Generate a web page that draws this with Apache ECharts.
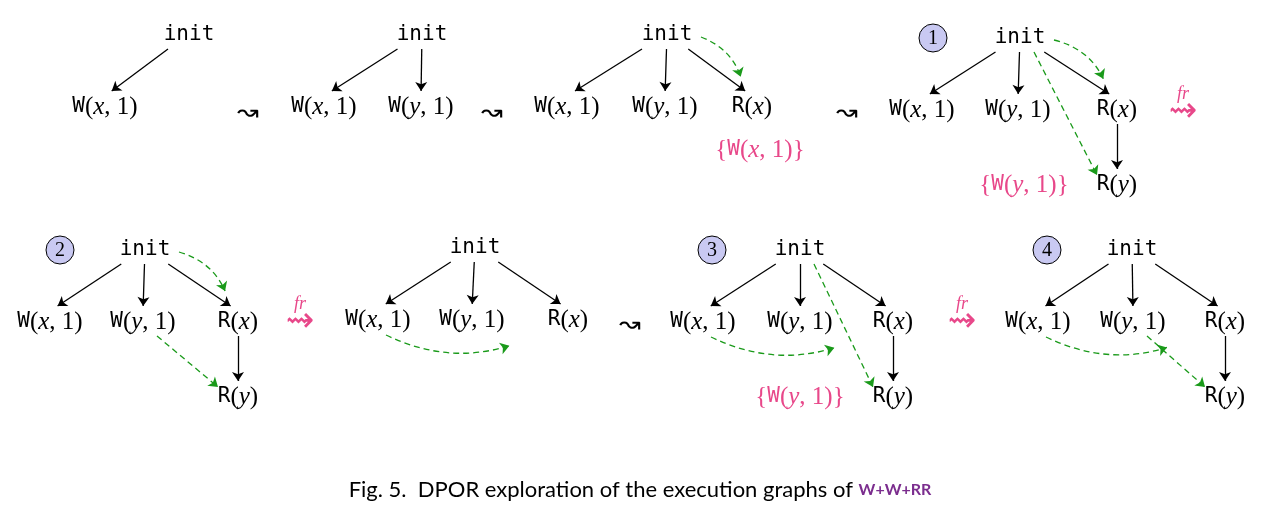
<!DOCTYPE html>
<html>
<head>
<meta charset="utf-8">
<script src="https://cdn.jsdelivr.net/npm/echarts@6/dist/echarts.min.js"></script>
<style>html,body{margin:0;background:#fff}#c{width:1274px;height:523px}</style>
</head>
<body>
<div id="c"></div>
<script>
// node labels
var labelText = {
  init: '{m|init}',
  Wx: '{m|W}{n|(}{i|x}{n|, 1)}',
  Wy: '{m|W}{n|(}{i|y}{n|, 1)}',
  Rx: '{m|R}{n|(}{i|x}{n|)}',
  Ry: '{m|R}{n|(}{i|y}{n|)}'
};

// nodes: id, kind, x, y
var nodeList = [
  ['a0','init',189,35],['a1','Wx',105,107],
  ['b0','init',422,35],['b1','Wx',324,107],['b2','Wy',421,107],
  ['c0','init',667,35],['c1','Wx',567,107],['c2','Wy',665,107],['c3','Rx',752,107],
  ['d0','init',1020,38],['d1','Wx',922,110],['d2','Wy',1018,110],['d3','Rx',1117,110],['d4','Ry',1117,185],
  ['e0','init',145,250],['e1','Wx',50,322],['e2','Wy',143,322],['e3','Rx',238,322],['e4','Ry',238,397],
  ['f0','init',475,248],['f1','Wx',378,320],['f2','Wy',472,320],['f3','Rx',568,320],
  ['g0','init',800,250],['g1','Wx',703,322],['g2','Wy',800,322],['g3','Rx',893,322],['g4','Ry',893,397],
  ['h0','init',1132,250],['h1','Wx',1038,322],['h2','Wy',1133,322],['h3','Rx',1225,322],['h4','Ry',1225,397]
];

// program-order edges
var poEdges = [
  ['a0','a1'],
  ['b0','b1'],['b0','b2'],
  ['c0','c1'],['c0','c2'],['c0','c3'],
  ['d0','d1'],['d0','d2'],['d0','d3'],['d3','d4'],
  ['e0','e1'],['e0','e2'],['e0','e3'],['e3','e4'],
  ['f0','f1'],['f0','f2'],['f0','f3'],
  ['g0','g1'],['g0','g2'],['g0','g3'],['g3','g4'],
  ['h0','h1'],['h0','h2'],['h0','h3'],['h3','h4']
];

// reads-from edges: from, to, curveness, kind ('top' = init to R(x), 'low' = under the row, 'diag')
var rfEdges = [
  ['c0','c3',0.3,'top'],
  ['d0','d3',0.3,'top'],['d0','d4',0,'diag'],
  ['e0','e3',0.3,'top'],['e2','e4',0,'diag'],
  ['f1','f3',-0.25,'low'],
  ['g1','g3',-0.25,'low'],['g0','g4',0,'diag'],
  ['h1','h3',-0.25,'low'],['h2','h4',0,'diag']
];

// pink sets: variable, x, y
var setLabels = [['x',760,150],['y',1024,185],['y',800,397]];
// circled step numbers: n, x, y
var stepMarks = [['1',933,38],['2',60,250],['3',712,250],['4',1047,250]];
// squiggle arrows: x, y, fr?
var squiggles = [[248,113,false],[492,113,false],[847,113,false],[1183,112,true],
  [300,322,true],[630,325,false],[962,322,true]];

var rich = {
  m: {fontFamily: 'DejaVu Sans Mono', fontSize: 21, color: '#000'},
  n: {fontFamily: 'Liberation Serif', fontSize: 25, color: '#000'},
  i: {fontFamily: 'Liberation Serif', fontSize: 25, fontStyle: 'italic', color: '#000'}
};
var pinkRich = {
  m: {fontFamily: 'DejaVu Sans Mono', fontSize: 21, fill: '#e8488a'},
  n: {fontFamily: 'Liberation Serif', fontSize: 25, fill: '#e8488a'},
  i: {fontFamily: 'Liberation Serif', fontSize: 25, fontStyle: 'italic', fill: '#e8488a'}
};

var pos = {};
nodeList.forEach(function (n) { pos[n[0]] = [n[2], n[3]]; });

var nodes = nodeList.map(function (n) {
  return {name: n[0], x: n[2], y: n[3], symbolSize: 1,
    itemStyle: {color: 'rgba(0,0,0,0)'},
    label: {show: true, position: 'inside', formatter: labelText[n[1]], rich: rich}};
});
// corner anchors so the graph maps 1:1 to pixels
nodes.push({name: 'tl', x: 0, y: 0, symbolSize: 0, label: {show: false}});
nodes.push({name: 'br', x: 1274, y: 523, symbolSize: 0, label: {show: false}});

// hidden endpoint anchors offset from the node centres
var anchorCount = 0;
function anchor(id, dx, dy) {
  var name = 'p' + (anchorCount++);
  nodes.push({name: name, x: pos[id][0] + dx, y: pos[id][1] + dy, symbolSize: 0, label: {show: false}});
  return name;
}

var links = [];
poEdges.forEach(function (e) {
  var s = pos[e[0]], t = pos[e[1]];
  var sdx = Math.max(-28, Math.min(28, (t[0] - s[0]) * 0.25));
  links.push({source: anchor(e[0], sdx, 14), target: anchor(e[1], (s[0] - t[0]) * 0.08, -16),
    lineStyle: {color: '#000', width: 1.3, opacity: 1, curveness: 0}});
});
rfEdges.forEach(function (e) {
  var a, b;
  if (e[3] === 'top') { a = anchor(e[0], 34, 2); b = anchor(e[1], -8, -15); }
  else if (e[3] === 'low') { a = anchor(e[0], 8, 15); b = anchor(e[1], -28, 13); }
  else { a = anchor(e[0], 14, 14); b = anchor(e[1], -20, -10); }
  links.push({source: a, target: b,
    lineStyle: {color: '#1a9a1a', width: 1.3, opacity: 1, type: [6, 4], curveness: e[2]}});
});

var graphics = [];
setLabels.forEach(function (s) {
  graphics.push({type: 'text', x: s[1], y: s[2], style: {
    text: '{{m|W}{n|(}{i|' + s[0] + '}{n|, 1)}}', rich: pinkRich,
    fill: '#e8488a', font: '25px "Liberation Serif"', align: 'center', verticalAlign: 'middle'}});
});
stepMarks.forEach(function (s) {
  graphics.push({type: 'circle', shape: {cx: s[1], cy: s[2], r: 14},
    style: {fill: '#c9c9f2', stroke: '#000', lineWidth: 1}});
  graphics.push({type: 'text', x: s[1], y: s[2] + 1, style: {text: s[0],
    font: '20px "Liberation Serif"', fill: '#000', align: 'center', verticalAlign: 'middle'}});
});
squiggles.forEach(function (s) {
  graphics.push({type: 'text', x: s[0], y: s[1], style: {text: s[2] ? '\u21DD' : '\u219D',
    font: s[2] ? '34px "DejaVu Sans"' : '26px "DejaVu Sans"', fill: s[2] ? '#e8488a' : '#000',
    align: 'center', verticalAlign: 'middle'}});
  if (s[2]) {
    graphics.push({type: 'text', x: s[0], y: s[1] - 18, style: {text: 'fr',
      font: 'italic 18px "Liberation Serif"', fill: '#e8488a', align: 'center', verticalAlign: 'middle'}});
  }
});
graphics.push({type: 'text', x: 640, y: 490, style: {
  text: '{a|Fig. 5.  DPOR exploration of the execution graphs of }{b|W+W+RR}',
  rich: {a: {fontFamily: 'Lato', fontSize: 22, fill: '#000'},
         b: {fontFamily: 'Lato', fontSize: 16, fill: '#7b2d8e', fontWeight: 'bold'}},
  align: 'center', verticalAlign: 'middle'}});

var chart = echarts.init(document.getElementById('c'));
chart.setOption({
  backgroundColor: '#fff',
  animation: false,
  graphic: graphics,
  series: [{
    type: 'graph', layout: 'none', roam: false,
    left: 0, top: 0, width: 1274, height: 523,
    edgeSymbol: ['none', 'arrow'], edgeSymbolSize: 9,
    data: nodes, links: links
  }]
});
</script>
</body>
</html>
